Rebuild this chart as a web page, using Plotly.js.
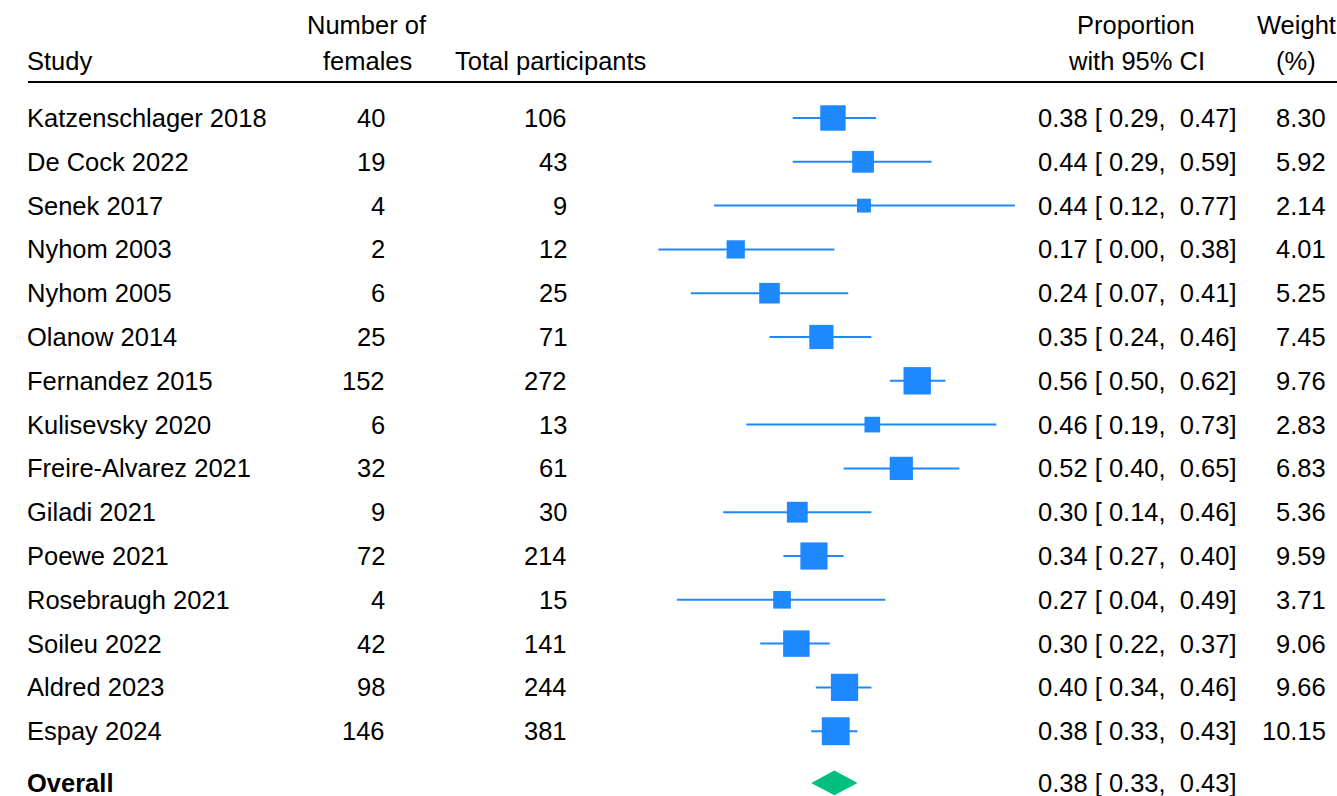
<!DOCTYPE html>
<html>
<head>
<meta charset="utf-8">
<script src="https://cdn.plot.ly/plotly-3.0.1.min.js"></script>
<style>html,body{margin:0;padding:0;background:#fff;}#chart{width:1337px;height:796px;}</style>
</head>
<body>
<div id="chart"></div>
<script>
const studies = ["Katzenschlager 2018","De Cock 2022","Senek 2017","Nyhom 2003","Nyhom 2005","Olanow 2014","Fernandez 2015","Kulisevsky 2020","Freire-Alvarez 2021","Giladi 2021","Poewe 2021","Rosebraugh 2021","Soileu 2022","Aldred 2023","Espay 2024"];
const females = [40,19,4,2,6,25,152,6,32,9,72,4,42,98,146];
const totals = [106,43,9,12,25,71,272,13,61,30,214,15,141,244,381];
const est = [0.377,0.442,0.444,0.167,0.240,0.352,0.559,0.462,0.5246,0.300,0.336,0.267,0.298,0.402,0.383];
const lower = [0.29,0.29,0.12,0.00,0.07,0.24,0.50,0.19,0.40,0.14,0.27,0.04,0.22,0.34,0.33];
const upper = [0.47,0.59,0.77,0.38,0.41,0.46,0.62,0.73,0.65,0.46,0.40,0.49,0.37,0.46,0.43];
const weights = [8.30,5.92,2.14,4.01,5.25,7.45,9.76,2.83,6.83,5.36,9.59,3.71,9.06,9.66,10.15];
const overallLabel = "Overall";
const overallEst = 0.38, overallLower = 0.33, overallUpper = 0.43;
const headers = {study:"Study", females:["Number of","females"], total:"Total participants", ci:["Proportion","with 95% CI"], weight:["Weight","(%)"]};

const W = 1337, H = 796;
const rows = studies.map((s,i)=>i+1);
const overallRow = 16.18;
const blue = "#1E88FF", green = "#00BF7F";
const FS = 25.5;
const font = {family:"Liberation Sans, Arial, Helvetica, sans-serif", size:FS, color:"#000"};
const nb = "\u00A0";
const fmt = v => v.toFixed(2);
const ciText = (e,l,u) => fmt(e) + nb + "[" + nb + fmt(l) + "," + nb + nb + fmt(u) + "]";

// CI lines
const lx = [], ly = [];
rows.forEach((r,i)=>{ lx.push(lower[i], upper[i], null); ly.push(r, r, null); });

const traces = [
  {type:"scatter", mode:"lines", x:lx, y:ly, line:{color:blue, width:2}, hoverinfo:"skip", showlegend:false},
  {type:"scatter", mode:"markers", x:est, y:rows, opacity:1,
   marker:{symbol:"square", color:blue, opacity:1, size:weights.map(w=>2+8.13*Math.sqrt(w)), line:{width:0}},
   hoverinfo:"skip", showlegend:false},
  {type:"scatter", mode:"lines", fill:"toself", fillcolor:green,
   x:[overallLower, overallEst, overallUpper, overallEst, overallLower],
   y:[overallRow, overallRow-0.285, overallRow, overallRow+0.285, overallRow],
   line:{width:0, color:green}, hoverinfo:"skip", showlegend:false}
];

const px = p => p / W;
const ann = [];
function add(text, xpx, y, anchor, opts) {
  const xs = anchor === "left" ? -3 : (anchor === "right" ? 3 : 0);
  ann.push(Object.assign({text:text, x:px(xpx), xref:"paper", y:y, yref:"y", xanchor:anchor, yanchor:"middle",
    showarrow:false, font:font, xshift:xs, yshift:0}, opts||{}));
}
// headers
const hRow1 = -1.12, hRow2 = -0.30;
add(headers.study, 28, hRow2, "left");
add(headers.females[0], 367, hRow1, "center");
add(headers.females[1], 367, hRow2, "center");
add(headers.total, 550, hRow2, "center");
add(headers.ci[0], 1136, hRow1, "center");
add(headers.ci[1], 1136, hRow2, "center");
add(headers.weight[0], 1296, hRow1, "center");
add(headers.weight[1], 1296, hRow2, "center");

rows.forEach((r,i)=>{
  add(studies[i], 28, r, "left");
  add(String(females[i]), 384, r, "right");
  add(String(totals[i]), 566, r, "right");
  add(ciText(est[i], lower[i], upper[i]), 1235, r, "right");
  add(fmt(weights[i]), 1325, r, "right");
});
add("<b>" + overallLabel + "</b>", 28, overallRow, "left");
add(ciText(overallEst, overallLower, overallUpper), 1235, overallRow, "right");

const pxPerUnit = 463, zeroPx = 658.4;
const rowPx = 43.8, row1Px = 118;
const layout = {
  width:W, height:H, margin:{l:0,r:0,t:0,b:0}, paper_bgcolor:"#fff", plot_bgcolor:"#fff",
  font:font, showlegend:false, hovermode:false,
  xaxis:{range:[-zeroPx/pxPerUnit, (W-zeroPx)/pxPerUnit], visible:false, fixedrange:true},
  yaxis:{range:[1 + (H-row1Px)/rowPx, 1 - row1Px/rowPx], visible:false, fixedrange:true},
  shapes:[{type:"line", xref:"paper", yref:"y", x0:px(28), x1:1, y0:1+(82-row1Px)/rowPx, y1:1+(82-row1Px)/rowPx,
           line:{color:"#000", width:2}}],
  annotations:ann
};
Plotly.newPlot("chart", traces, layout, {displayModeBar:false, staticPlot:true});
</script>
</body>
</html>
